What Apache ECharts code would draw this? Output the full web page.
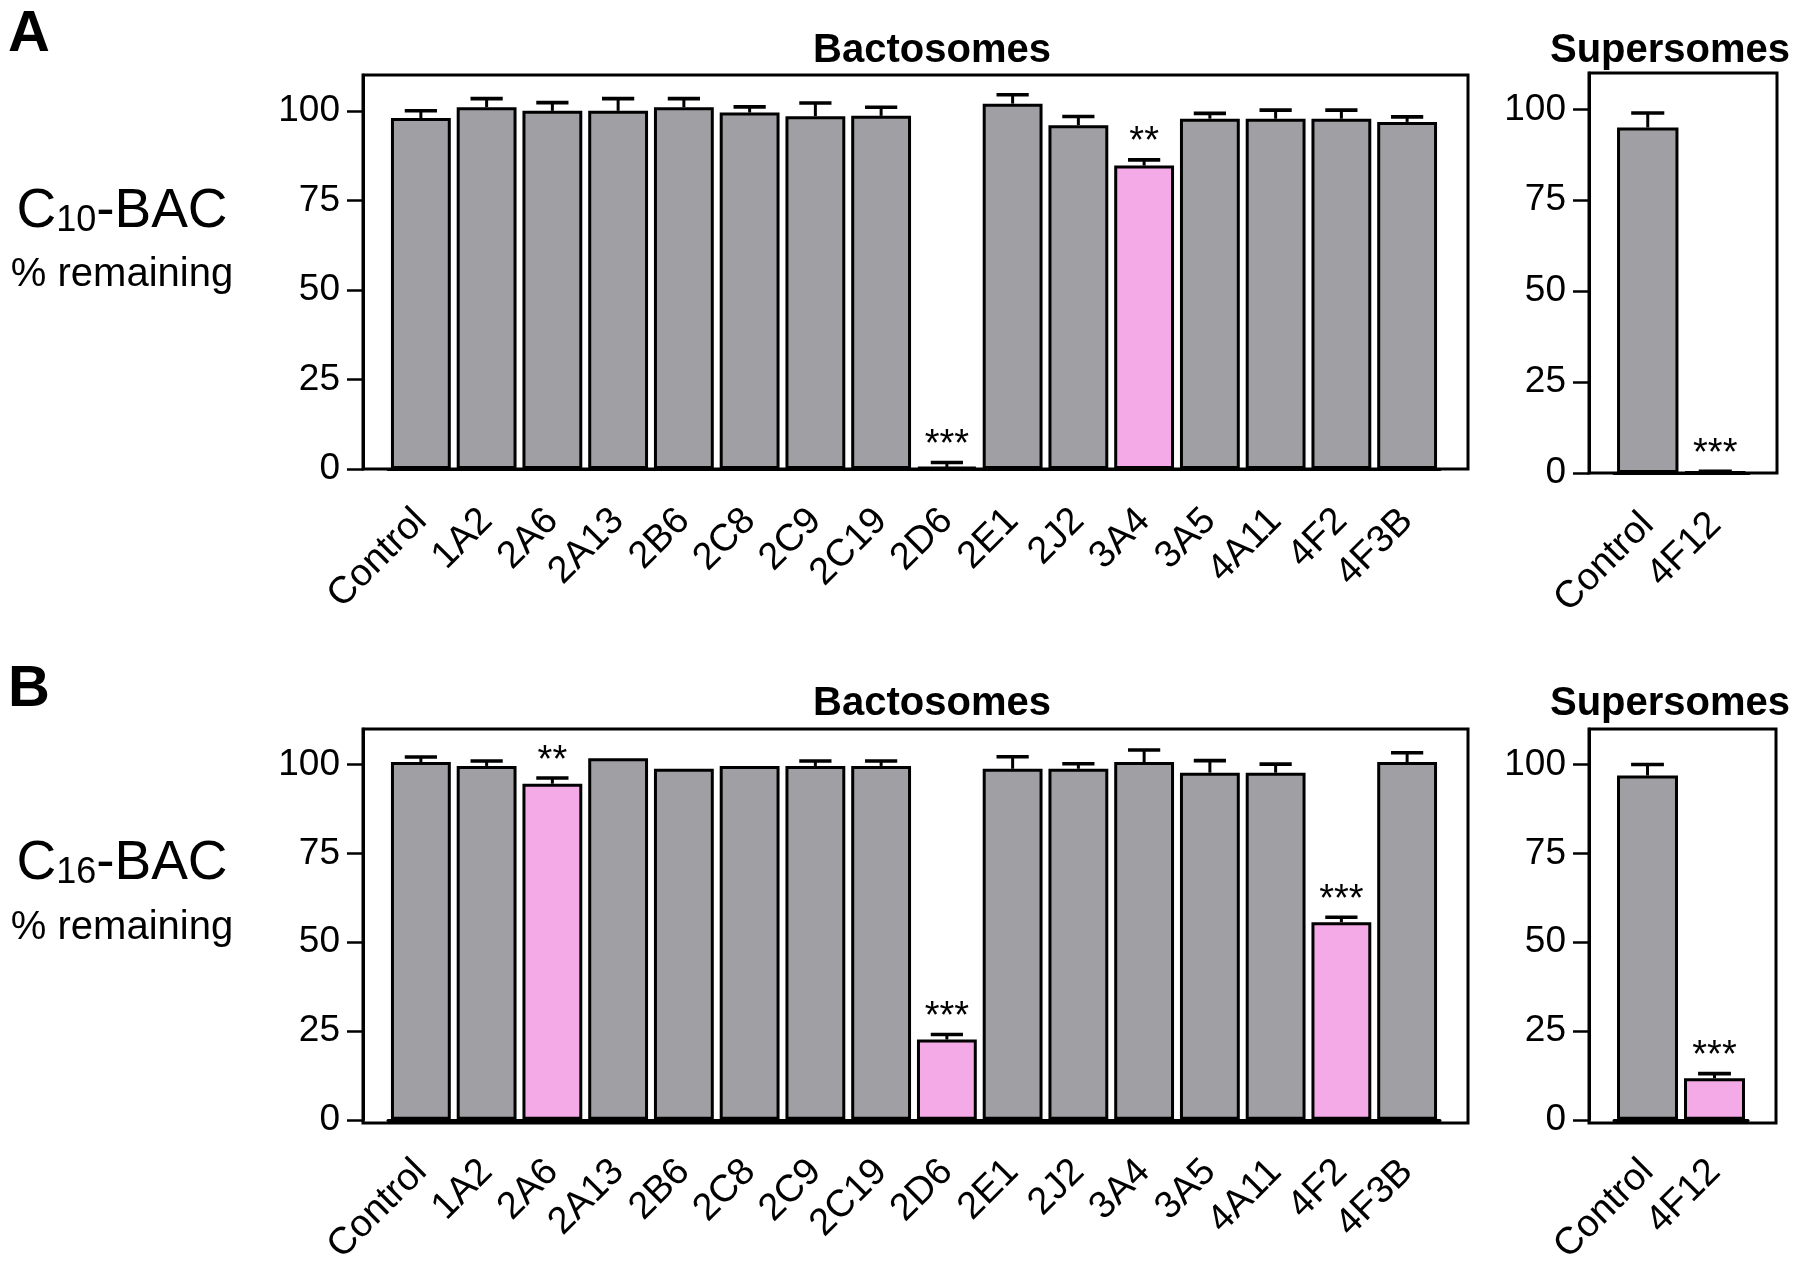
<!DOCTYPE html>
<html>
<head>
<meta charset="utf-8">
<script src="https://cdn.jsdelivr.net/npm/echarts@6/dist/echarts.min.js"></script>
<style>html,body{margin:0;padding:0;background:#fff}#c{width:1800px;height:1268px}</style>
</head>
<body>
<div id="c"></div>
<script>
// ---- data ----
const bactCats = ['Control','1A2','2A6','2A13','2B6','2C8','2C9','2C19','2D6','2E1','2J2','3A4','3A5','4A11','4F2','4F3B'];
const superCats = ['Control','4F12'];
const yTicks = [0, 25, 50, 75, 100];

const aBactVals = [98, 101, 100, 100, 101, 99.5, 98.5, 98.6, 0.5, 102, 96, 84.7, 97.8, 97.8, 97.8, 96.9];
const aBactErr  = [2, 2.4, 2.3, 3.4, 2.4, 1.6, 3.7, 2.4, 1.3, 2.5, 2.4, 1.6, 1.5, 2.4, 2.4, 1.4];
const aBactSig  = ['','','','','','','','','***','','','**','','','',''];
const aSuperVals = [95, 0.3];
const aSuperErr  = [4, 0.2];
const aSuperSig  = ['','***'];

const bBactVals = [100.7, 99.6, 94.6, 101.8, 98.8, 99.6, 99.6, 99.6, 22.6, 98.8, 98.8, 100.7, 97.7, 97.7, 55.6, 100.7];
const bBactErr  = [1.4, 1.4, 1.6, 0, 0, 0, 1.4, 1.4, 1.4, 3.4, 1.4, 3.4, 3.4, 2.4, 1.4, 2.6];
const bBactSig  = ['','','**','','','','','','***','','','','','','***',''];
const bSuperVals = [96.9, 11.7];
const bSuperErr  = [3.1, 1.3];
const bSuperSig  = ['','***'];

// ---- styling ----
const FONT = '"Liberation Sans", Arial, Helvetica, sans-serif';
const GRAY = '#a09fa4';
const PINK = '#f4aae6';

const chart = echarts.init(document.getElementById('c'), null, {renderer: 'canvas'});

const grids = [], xAxes = [], yAxes = [], series = [];

function addPanel(box, cats, vals, errs, sigs) {
  const padL = 25, padR = 28;
  const fi = grids.length;
  grids.push({left: box.left, top: box.top, width: box.right - box.left, height: box.bottom - box.top,
              show: true, borderColor: '#000', borderWidth: 3, backgroundColor: 'transparent'});
  xAxes.push({gridIndex: fi, type: 'value', show: false});
  yAxes.push({gridIndex: fi, type: 'value', show: false});
  const di = grids.length;
  grids.push({left: box.left + padL, top: box.top, width: box.right - box.left - padL - padR, height: box.bottom - box.top});
  xAxes.push({
    gridIndex: di, type: 'category', data: cats,
    axisLine: {lineStyle: {color: '#000', width: 3}},
    axisTick: {alignWithLabel: true, length: 18, lineStyle: {color: '#000', width: 2.5}},
    axisLabel: {rotate: 45, interval: 0, fontSize: 38, color: '#000', fontFamily: FONT, margin: 46}
  });
  yAxes.push({
    gridIndex: di, type: 'value', min: 0, max: 110, interval: 25, offset: padL,
    axisLine: {show: true, lineStyle: {color: '#000', width: 3}},
    axisTick: {show: true, length: 16, customValues: yTicks, lineStyle: {color: '#000', width: 2.5}},
    axisLabel: {customValues: yTicks, fontSize: 37, color: '#000', fontFamily: FONT, margin: 23},
    splitLine: {show: false}
  });
  series.push({
    type: 'bar', xAxisIndex: di, yAxisIndex: di, barWidth: '91%',
    itemStyle: {borderColor: '#000', borderWidth: 3},
    data: vals.map((v, i) => ({value: v, itemStyle: {color: sigs[i] ? PINK : GRAY}})),
    z: 3
  });
  series.push({
    type: 'custom', xAxisIndex: di, yAxisIndex: di, z: 5,
    data: vals.map((v, i) => [i, v, errs[i]]),
    renderItem: function (params, api) {
      const i = api.value(0), v = api.value(1), e = api.value(2);
      const p0 = api.coord([i, v]);
      const p1 = api.coord([i, v + e]);
      const band = api.size([1, 0])[0];
      const cap = band * 0.245;
      const children = [];
      if (e > 0) {
        children.push({type: 'line', shape: {x1: p0[0], y1: p0[1], x2: p1[0], y2: p1[1]}, style: {stroke: '#000', lineWidth: 3}});
        children.push({type: 'line', shape: {x1: p1[0] - cap, y1: p1[1], x2: p1[0] + cap, y2: p1[1]}, style: {stroke: '#000', lineWidth: 3.6}});
      }
      const s = sigs[params.dataIndex];
      if (s) {
        children.push({type: 'text', x: p1[0], y: p1[1] - 17,
          style: {text: s, fill: '#000', font: '38px ' + FONT, textAlign: 'center', textVerticalAlign: 'middle'}});
      }
      return {type: 'group', children: children};
    }
  });
}

addPanel({left: 363, top: 75, right: 1468, bottom: 469}, bactCats, aBactVals, aBactErr, aBactSig);
addPanel({left: 1589, top: 73, right: 1777, bottom: 473}, superCats, aSuperVals, aSuperErr, aSuperSig);
addPanel({left: 363, top: 729, right: 1468, bottom: 1123}, bactCats, bBactVals, bBactErr, bBactSig);
addPanel({left: 1589, top: 729, right: 1776, bottom: 1123}, superCats, bSuperVals, bSuperErr, bSuperSig);

function txt(x, y, text, font, align) {
  return {type: 'text', x: x, y: y, style: {text: text, font: font, fill: '#000', textAlign: align || 'center', textVerticalAlign: 'middle'}};
}
function ylab(x, y, sub) {
  return {type: 'text', x: x, y: y, style: {
    text: '{a|C}{s|' + sub + '}{a|-BAC}', fill: '#000', textAlign: 'center', textVerticalAlign: 'middle',
    rich: {
      a: {fontSize: 55, fontFamily: FONT, lineHeight: 62, verticalAlign: 'bottom', fill: '#000'},
      s: {fontSize: 36, fontFamily: FONT, lineHeight: 26, verticalAlign: 'bottom', fill: '#000'}
    }
  }};
}

const graphics = [
  txt(29, 35, 'A', 'bold 58px ' + FONT),
  txt(29, 690, 'B', 'bold 58px ' + FONT),
  txt(932, 51, 'Bactosomes', 'bold 40px ' + FONT),
  txt(1670, 51, 'Supersomes', 'bold 40px ' + FONT),
  txt(932, 704, 'Bactosomes', 'bold 40px ' + FONT),
  txt(1670, 704, 'Supersomes', 'bold 40px ' + FONT),
  ylab(122, 208, '10'),
  txt(122, 275, '% remaining', '40px ' + FONT),
  ylab(122, 860, '16'),
  txt(122, 928, '% remaining', '40px ' + FONT)
];

chart.setOption({
  animation: false,
  backgroundColor: '#fff',
  grid: grids, xAxis: xAxes, yAxis: yAxes, series: series,
  graphic: graphics
});
</script>
</body>
</html>
